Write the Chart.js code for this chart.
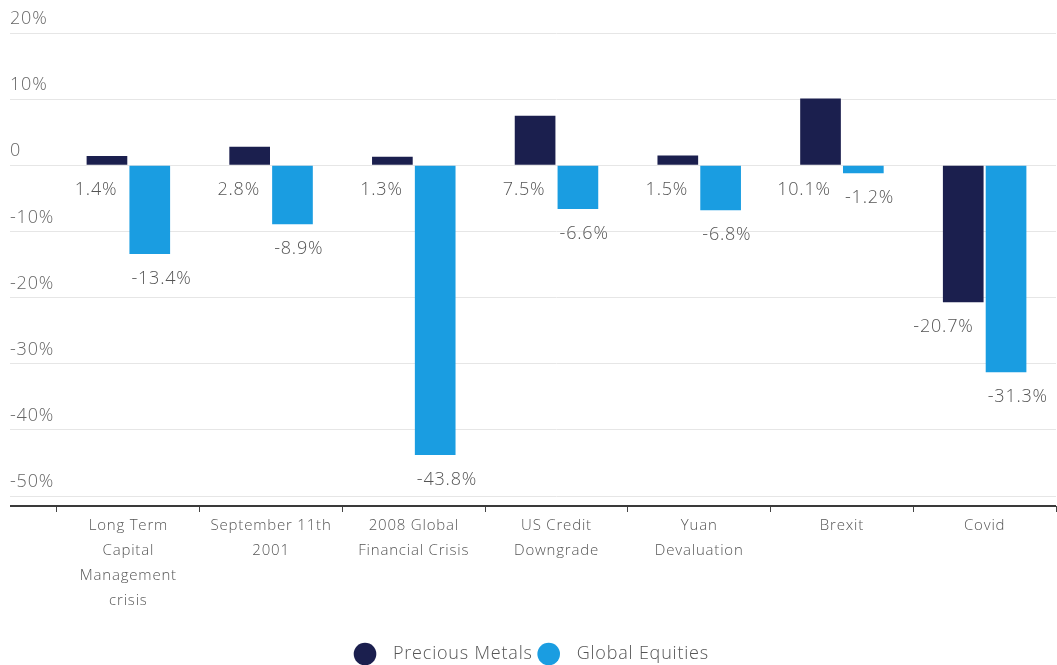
<!DOCTYPE html>
<html>
<head>
<meta charset="utf-8">
<script src="https://cdn.jsdelivr.net/npm/chart.js@4"></script>
<style>
  html, body { margin: 0; padding: 0; background: #fff; }
  #wrap { width: 1057px; height: 665px; }
</style>
</head>
<body>
<div id="wrap"><canvas id="crisis-chart"></canvas></div>
<script>
// market shocks and how each asset class fared (%)
const events = [
    ['Long Term', 'Capital', 'Management', 'crisis'],
    ['September 11th', '2001'],
    ['2008 Global', 'Financial Crisis'],
    ['US Credit', 'Downgrade'],
    ['Yuan', 'Devaluation'],
    'Brexit',
    'Covid'
];
const preciousMetals = [1.4, 2.8, 1.3, 7.5, 1.5, 10.1, -20.7];
const globalEquities = [-13.4, -8.9, -43.8, -6.6, -6.8, -1.2, -31.3];
const yTicks = [20, 10, 0, -10, -20, -30, -40, -50];
const yMin = -51.5;
const yMax = 20;

const FONT = '"Open Sans", "DejaVu Sans", sans-serif';
const SPACING = '0.8px';

// wider letter spacing on every text drawn on the canvas
const letterSpacing = {
    id: 'letterSpacing',
    beforeUpdate(chart) { chart.ctx.letterSpacing = SPACING; },
    beforeDraw(chart) { chart.ctx.letterSpacing = SPACING; }
};

// value labels sit just under each bar (or under the zero line for gains)
const valueLabels = {
    id: 'valueLabels',
    afterDatasetsDraw(chart) {
        const ctx = chart.ctx;
        ctx.save();
        ctx.font = '300 18px ' + FONT;
        ctx.fillStyle = '#555';
        ctx.textBaseline = 'middle';
        chart.data.datasets.forEach((ds, i) => {
            chart.getDatasetMeta(i).data.forEach((bar, j) => {
                const text = ds.data[j].toFixed(1) + '%';
                const y = Math.max(bar.y, bar.base) + 25;
                if (i === 0) {
                    ctx.textAlign = 'right';
                    ctx.fillText(text, bar.x + bar.width / 2 - 10, y);
                } else {
                    ctx.textAlign = 'left';
                    ctx.fillText(text, bar.x - bar.width / 2 + 2, y);
                }
            });
        });
        ctx.restore();
    }
};

const ctx = document.getElementById('crisis-chart').getContext('2d');
const crisisChart = new Chart(ctx, {
    type: 'bar',
    data: {
        labels: events,
        datasets: [{
            label: 'Precious Metals',
            data: preciousMetals,
            backgroundColor: '#1b1f4e',
            borderWidth: 0,
            barPercentage: 0.95,
            categoryPercentage: 0.6
        }, {
            label: 'Global Equities',
            data: globalEquities,
            backgroundColor: '#1a9de1',
            borderWidth: 0,
            barPercentage: 0.95,
            categoryPercentage: 0.6
        }]
    },
    options: {
        responsive: true,
        maintainAspectRatio: false,
        animation: false,
        layout: {
            padding: { top: 33, left: 10, right: 1, bottom: -8 }
        },
        plugins: {
            tooltip: { enabled: false },
            legend: {
                position: 'bottom',
                labels: {
                    usePointStyle: true,
                    pointStyle: 'circle',
                    boxWidth: 16,
                    boxHeight: 16,
                    padding: 8,
                    color: '#555',
                    font: { family: FONT, size: 18, weight: 300 },
                    generateLabels: chart => Chart.defaults.plugins.legend.labels.generateLabels(chart)
                        .map(item => Object.assign(item, { text: '  ' + item.text }))
                }
            }
        },
        scales: {
            x: {
                afterFit: s => { s.height = 131; },
                border: { display: false },
                grid: {
                    offset: true,
                    drawOnChartArea: false,
                    drawTicks: true,
                    tickLength: 6,
                    color: '#444'
                },
                ticks: {
                    color: '#555',
                    padding: 1,
                    maxRotation: 0,
                    autoSkip: false,
                    font: { family: FONT, size: 15, weight: 300, lineHeight: '25px' }
                }
            },
            y: {
                min: yMin,
                max: yMax,
                afterBuildTicks: s => { s.ticks = yTicks.concat([yMin]).map(v => ({ value: v })); },
                afterFit: s => { s.width = 47; },
                border: { display: false },
                grid: {
                    color: c => (c.tick && c.tick.value === yMin) ? '#3a3a3a' : '#e6e6e6',
                    lineWidth: c => (c.tick && c.tick.value === yMin) ? 2 : 1,
                    tickLength: 47
                },
                ticks: {
                    crossAlign: 'far',
                    labelOffset: -14,
                    padding: 0,
                    color: '#666',
                    font: { family: FONT, size: 18, weight: 300 },
                    callback: v => v === yMin ? '' : (v === 0 ? '0' : v + '%')
                }
            }
        }
    },
    plugins: [letterSpacing, valueLabels]
});
</script>
</body>
</html>
